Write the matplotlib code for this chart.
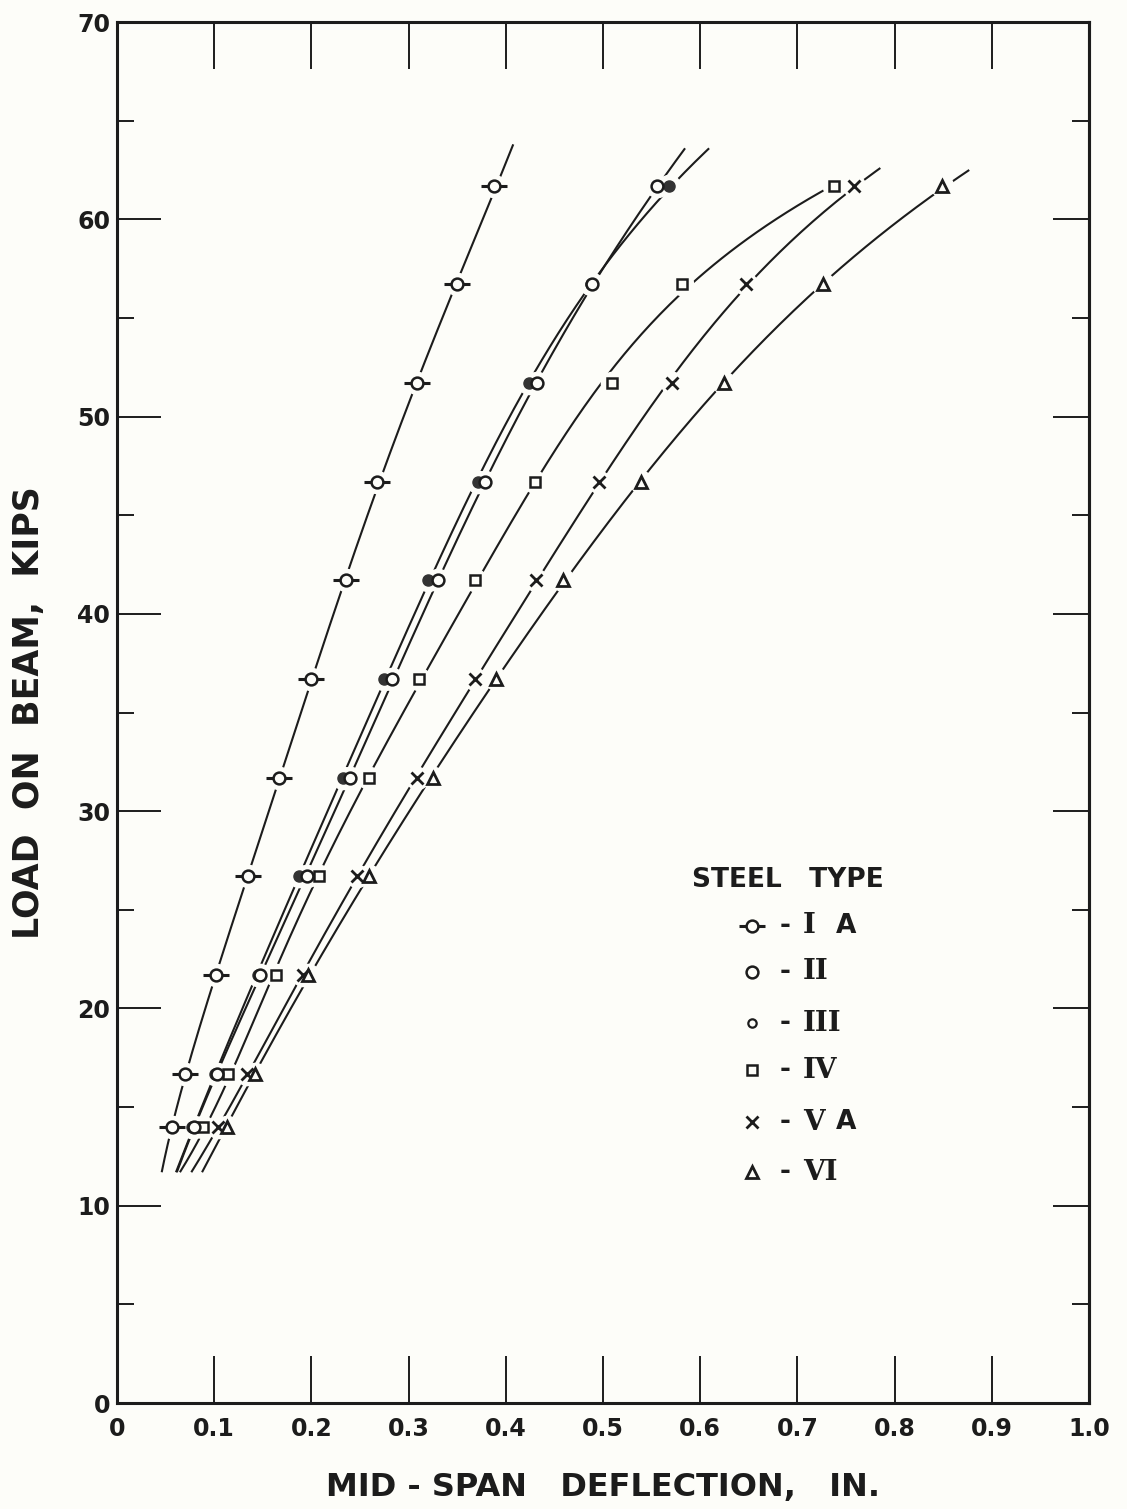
import matplotlib
matplotlib.use('Agg')
import matplotlib.pyplot as plt
import numpy as np
from matplotlib.ticker import MultipleLocator, FixedLocator

# load levels (kips)
loads = [14.0, 16.7, 21.7, 26.7, 31.7, 36.7, 41.7, 46.7, 51.7, 56.7, 61.7]

# mid-span deflection (in.) for each steel type
defl_IA = [0.057, 0.070, 0.102, 0.135, 0.167, 0.200, 0.236, 0.268, 0.309, 0.350, 0.388]
defl_II = [0.079, 0.103, 0.147, 0.195, 0.240, 0.283, 0.330, 0.379, 0.432, 0.489, 0.556]
defl_III = [0.077, 0.101, 0.145, 0.187, 0.233, 0.275, 0.320, 0.371, 0.424, 0.488, 0.568]
defl_IV = [0.089, 0.114, 0.164, 0.208, 0.259, 0.311, 0.368, 0.430, 0.509, 0.581, 0.738]
defl_VA = [0.104, 0.134, 0.191, 0.247, 0.309, 0.368, 0.431, 0.496, 0.571, 0.647, 0.758]
defl_VI = [0.113, 0.142, 0.197, 0.259, 0.325, 0.390, 0.459, 0.539, 0.624, 0.726, 0.849]

# where the drawn curves begin and end (deflection, load)
curve_start = {'IA': (0.046, 11.7), 'II': (0.062, 11.7), 'III': (0.062, 11.7),
               'IV': (0.067, 11.7), 'VA': (0.077, 11.7), 'VI': (0.087, 11.7)}
curve_end = {'IA': (0.409, 63.8), 'II': (0.585, 63.6), 'III': (0.611, 63.6),
             'IV': None, 'VA': (0.788, 62.6), 'VI': (0.880, 62.5)}

x_ticks = [0, 0.1, 0.2, 0.3, 0.4, 0.5, 0.6, 0.7, 0.8, 0.9, 1.0]
x_tick_labels = ['0', '0.1', '0.2', '0.3', '0.4', '0.5', '0.6', '0.7', '0.8', '0.9', '1.0']
y_ticks = [0, 10, 20, 30, 40, 50, 60, 70]

legend_numerals = ['I', 'II', 'III', 'IV', 'V', 'VI']
legend_suffix = ['A', '', '', '', 'A', '']

INK = '#1c1c1c'
PAPER = '#fdfdf9'

plt.rcParams['font.family'] = ['DejaVu Sans']

fig = plt.figure(figsize=(11.27, 15.09), dpi=100, facecolor=PAPER)
ax = fig.add_axes([0.1038, 0.0702, 0.8625, 0.9152])
ax.set_facecolor(PAPER)
ax.set_xlim(0, 1.0)
ax.set_ylim(0, 70)

for s in ax.spines.values():
    s.set_linewidth(2.2)
    s.set_color(INK)

# smooth fitted curve through each set of points, as drawn on the original
data = {'IA': defl_IA, 'II': defl_II, 'III': defl_III,
        'IV': defl_IV, 'VA': defl_VA, 'VI': defl_VI}
for key, d in data.items():
    xs = [curve_start[key][0]] + list(d)
    ys = [curve_start[key][1]] + list(loads)
    if curve_end[key] is not None:
        xs.append(curve_end[key][0])
        ys.append(curve_end[key][1])
    coef = np.polyfit(ys, xs, 5)
    yy = np.linspace(ys[0], ys[-1], 300)
    ax.plot(np.polyval(coef, yy), yy, color=INK, lw=1.5, zorder=2, solid_capstyle='butt')

# white halos so the curves break around the symbols
for key, d in data.items():
    ax.plot(d, loads, ls='none', marker='o', ms=16, mfc=PAPER, mec=PAPER, zorder=3)

# symbols
ax.plot(defl_IA, loads, ls='none', marker='_', ms=19, mew=2.2, mec=INK, zorder=4)
ax.plot(defl_IA, loads, ls='none', marker='o', ms=8.5, mfc=PAPER, mec=INK, mew=1.8, zorder=5)
ax.plot(defl_III, loads, ls='none', marker='o', ms=8, mfc='#333333', mec='#333333', zorder=5)
ax.plot(defl_II, loads, ls='none', marker='o', ms=8.5, mfc=PAPER, mec=INK, mew=1.8, zorder=6)
ax.plot(defl_IV, loads, ls='none', marker='s', ms=7.5, mfc=PAPER, mec=INK, mew=1.8, zorder=5)
ax.plot(defl_VA, loads, ls='none', marker='x', ms=8.5, mec=INK, mew=2.0, zorder=5)
ax.plot(defl_VI, loads, ls='none', marker='^', ms=8.5, mfc=PAPER, mec=INK, mew=2.0, zorder=5)

# ticks
ax.xaxis.set_major_locator(FixedLocator(x_ticks))
ax.set_xticklabels(x_tick_labels, fontweight='bold')
ax.yaxis.set_major_locator(FixedLocator(y_ticks))
ax.set_yticklabels([str(v) for v in y_ticks], fontweight='bold')
ax.yaxis.set_minor_locator(MultipleLocator(5))
ax.tick_params(axis='x', which='major', direction='in', top=True, bottom=True,
               length=34, width=1.4, color=INK, labelsize=17, pad=10, labelcolor=INK)
ax.tick_params(axis='y', which='major', direction='in', left=True, right=False,
               length=32, width=1.4, color=INK, labelsize=17, pad=5, labelcolor=INK)
ax.tick_params(axis='y', which='minor', direction='in', left=True, right=False,
               length=12, width=1.4, color=INK)

sec = ax.secondary_yaxis('right')
sec.yaxis.set_major_locator(FixedLocator(y_ticks))
sec.yaxis.set_minor_locator(MultipleLocator(5))
sec.tick_params(which='major', direction='in', length=26, width=1.4, color=INK, labelright=False)
sec.tick_params(which='minor', direction='in', length=12, width=1.4, color=INK, labelright=False)
sec.spines['right'].set_linewidth(2.2)
sec.spines['right'].set_color(INK)

ax.set_xlabel('MID - SPAN   DEFLECTION,   IN.', fontsize=23, fontweight='bold',
              color=INK, labelpad=22)
ax.set_ylabel('LOAD  ON  BEAM,  KIPS', fontsize=25, fontweight='bold',
              color=INK, labelpad=22)

# legend drawn by hand
ax.text(0.690, 26.5, 'STEEL   TYPE', fontsize=19, fontweight='bold', color=INK,
        ha='center', va='center')
row_y = [24.2, 21.85, 19.26, 16.88, 14.24, 11.71]
mx, dx, nx = 0.653, 0.687, 0.706
for i, (num, suf) in enumerate(zip(legend_numerals, legend_suffix)):
    yy = row_y[i]
    if i == 0:
        ax.plot([mx], [yy], marker='_', ms=19, mew=2.2, mec=INK, zorder=4)
        ax.plot([mx], [yy], marker='o', ms=8.5, mfc=PAPER, mec=INK, mew=1.8, zorder=5)
    elif i == 1:
        ax.plot([mx], [yy], marker='o', ms=8.5, mfc=PAPER, mec=INK, mew=1.8)
    elif i == 2:
        ax.plot([mx], [yy], marker='o', ms=6, mfc=PAPER, mec=INK, mew=1.6)
    elif i == 3:
        ax.plot([mx], [yy], marker='s', ms=7, mfc=PAPER, mec=INK, mew=1.8)
    elif i == 4:
        ax.plot([mx], [yy], marker='x', ms=8, mec=INK, mew=2.0)
    else:
        ax.plot([mx], [yy], marker='^', ms=8, mfc=PAPER, mec=INK, mew=2.0)
    ax.text(dx, yy, '-', fontsize=19, fontweight='bold', color=INK, ha='center', va='center')
    ax.text(nx, yy, num, fontsize=20, fontweight='bold', family='DejaVu Serif',
            color=INK, ha='left', va='center')
    if suf:
        ax.text(nx + 0.022 * len(num) + 0.012, yy, suf, fontsize=19, fontweight='bold',
                color=INK, ha='left', va='center')

fig.savefig('out.png', dpi=100, facecolor=PAPER)
